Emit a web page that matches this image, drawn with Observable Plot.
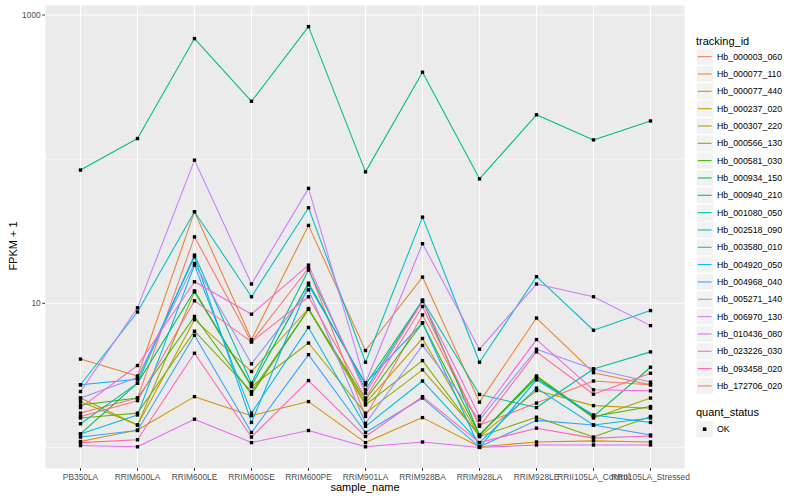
<!DOCTYPE html>
<html>
<head>
<meta charset="utf-8">
<script src="https://cdn.jsdelivr.net/npm/d3@7"></script>
<script src="https://cdn.jsdelivr.net/npm/@observablehq/plot@0.6"></script>
<style>
  body { margin: 0; background: #fff; font-family: "Liberation Sans", Arial, Helvetica, sans-serif; }
  #wrap { position: relative; width: 800px; height: 500px; overflow: hidden; }
  #plot { position: absolute; left: 0; top: 0; }
  .lab { position: absolute; color: #000; font-size: 11px; white-space: nowrap; }
  #legend { position: absolute; left: 690px; top: 0; }
</style>
</head>
<body>
<div id="wrap">
  <div id="plot"></div>
  <div class="lab" style="left:0px; top:238px; width:30px; transform: rotate(-90deg); transform-origin: 15px 8px; text-align:center;"><span style="display:inline-block; width:60px; margin-left:-15px;">FPKM + 1</span></div>
  <div class="lab" style="left:315px; top:481px; width:100px; text-align:center;">sample_name</div>
  <svg id="legend" width="110" height="500"></svg>
</div>
<script>
const samples = ["PB350LA","RRIM600LA","RRIM600LE","RRIM600SE","RRIM600PE","RRIM901LA","RRIM928BA","RRIM928LA","RRIM928LE","RRII105LA_Control","RRII105LA_Stressed"];

const trackingIds = ["Hb_000003_060","Hb_000077_110","Hb_000077_440","Hb_000237_020","Hb_000307_220","Hb_000566_130","Hb_000581_030","Hb_000934_150","Hb_000940_210","Hb_001080_050","Hb_002518_090","Hb_003580_010","Hb_004920_050","Hb_004968_040","Hb_005271_140","Hb_006970_130","Hb_010436_080","Hb_023226_030","Hb_093458_020","Hb_172706_020"];

const trackColors = ["#F8766D","#EA8331","#D89000","#C09B00","#A3A500","#7CAE00","#39B600","#00BB4E","#00BF7D","#00C1A3","#00BFC4","#00BAE0","#00B0F6","#35A2FF","#9590FF","#C77CFF","#E76BF3","#FA62DB","#FF62BC","#FF6C91"];

const quantStatus = ["OK"];

// FPKM + 1 per sample (same order as samples)
const Hb_000003_060 = [1.73, 2.20, 28.9, 5.4, 17.5, 1.64, 8.3, 1.43, 2.03, 2.89, 2.72];
const Hb_000077_110 = [4.1, 3.13, 43.2, 5.6, 34.7, 4.7, 15.2, 2.06, 7.9, 3.3, 2.72];
const Hb_000077_440 = [1.10, 1.32, 2.25, 1.66, 2.08, 1.08, 1.61, 1.01, 1.09, 1.11, 1.09];
const Hb_000237_020 = [2.20, 1.43, 7.7, 3.36, 9.2, 2.03, 5.7, 1.19, 2.48, 1.95, 1.87];
const Hb_000307_220 = [2.08, 1.43, 12.0, 2.64, 5.3, 1.73, 3.45, 1.22, 3.1, 1.60, 2.20];
const Hb_000566_130 = [1.60, 1.73, 6.4, 2.44, 9.1, 1.97, 4.0, 1.19, 1.62, 1.18, 1.64];
const Hb_000581_030 = [1.97, 2.20, 8.1, 2.34, 9.1, 2.14, 7.3, 1.22, 3.13, 1.64, 1.92];
const Hb_000934_150 = [1.24, 2.79, 12.2, 2.67, 13.8, 2.72, 10.5, 1.22, 3.02, 1.64, 3.6];
const Hb_000940_210 = [84, 139, 686, 252, 831, 81.6, 401, 73, 203, 136, 184];
const Hb_001080_050 = [1.46, 2.79, 21.6, 2.79, 17.0, 2.51, 10.5, 2.33, 1.89, 3.5, 4.6];
const Hb_002518_090 = [2.72, 8.7, 43.2, 11.1, 46.0, 3.9, 39.6, 3.9, 15.3, 6.5, 8.9];
const Hb_003580_010 = [1.24, 1.68, 18.4, 1.73, 6.8, 1.40, 2.89, 1.08, 2.58, 1.43, 1.60];
const Hb_004920_050 = [2.72, 2.97, 21.0, 1.49, 13.4, 2.79, 7.3, 1.00, 2.94, 1.68, 1.49];
const Hb_004968_040 = [1.18, 1.31, 6.0, 1.27, 4.4, 1.27, 2.20, 1.01, 1.54, 1.43, 1.22];
const Hb_005271_140 = [2.20, 3.05, 18.9, 3.8, 12.4, 1.47, 5.1, 1.55, 4.8, 3.5, 2.84];
const Hb_006970_130 = [2.44, 9.3, 98.4, 13.6, 62.7, 2.80, 25.9, 4.8, 13.6, 11.1, 7.0];
const Hb_010436_080 = [1.03, 1.01, 1.57, 1.08, 1.31, 1.01, 1.09, 1.00, 1.04, 1.04, 1.04];
const Hb_023226_030 = [1.89, 3.7, 14.1, 8.4, 18.4, 2.38, 10.3, 1.64, 5.6, 2.51, 2.47];
const Hb_093458_020 = [1.08, 1.13, 4.5, 1.18, 2.91, 1.19, 2.25, 1.08, 1.36, 1.16, 1.20];
const Hb_172706_020 = [1.64, 2.11, 10.4, 5.4, 11.1, 2.20, 9.5, 1.40, 4.6, 2.34, 3.27];

const seriesValues = [Hb_000003_060, Hb_000077_110, Hb_000077_440, Hb_000237_020, Hb_000307_220, Hb_000566_130, Hb_000581_030, Hb_000934_150, Hb_000940_210, Hb_001080_050, Hb_002518_090, Hb_003580_010, Hb_004920_050, Hb_004968_040, Hb_005271_140, Hb_006970_130, Hb_010436_080, Hb_023226_030, Hb_093458_020, Hb_172706_020];

const yMajor = [10, 1000];
const yMinor = [1, 100];

const rows = [];
trackingIds.forEach((id, i) => {
  seriesValues[i].forEach((v, j) => rows.push({id, sample: samples[j], value: v, status: quantStatus[0]}));
});

const chart = Plot.plot({
  width: 700,
  height: 500,
  marginLeft: 45,
  marginRight: 16,
  marginTop: 5,
  marginBottom: 32,
  style: {fontFamily: "'Liberation Sans', Arial, Helvetica, sans-serif", fontSize: "8.4px", color: "#4D4D4D", background: "transparent"},
  x: {type: "point", domain: samples, padding: 0.6, label: null},
  y: {type: "log", domain: [0.714, 1164], label: null},
  color: {domain: trackingIds, range: trackColors},
  marks: [
    Plot.frame({fill: "#EBEBEB", stroke: null}),
    Plot.ruleY(yMinor, {stroke: "#fff", strokeWidth: 0.55}),
    Plot.ruleY(yMajor, {stroke: "#fff", strokeWidth: 1.1}),
    Plot.ruleX(samples, {stroke: "#fff", strokeWidth: 1.1}),
    Plot.axisY({ticks: yMajor, tickFormat: d => String(d), tickSize: 2.75, tickPadding: 2, label: null, stroke: "#333"}),
    Plot.axisX({tickSize: 2.75, tickPadding: 3, label: null, stroke: "#333"}),
    Plot.line(rows, {x: "sample", y: "value", z: "id", stroke: "id", strokeWidth: 1.07}),
    Plot.dot(rows, {x: "sample", y: "value", symbol: "square", r: 1.9, fill: "#000", stroke: null})
  ]
});
document.getElementById("plot").appendChild(chart);

// legend (SVG)
const lg = d3.select("#legend");
const font = "'Liberation Sans', Arial, Helvetica, sans-serif";
lg.append("text").attr("x", 6).attr("y", 44.5).attr("font-family", font).attr("font-size", 11).attr("fill", "#000").text("tracking_id");
const rowH = 17.33, y0 = 48;
trackingIds.forEach((id, i) => {
  const top = y0 + i * rowH;
  lg.append("rect").attr("x", 6).attr("y", top).attr("width", 17.3).attr("height", rowH)
    .attr("fill", "#F2F2F2").attr("stroke", "#fff").attr("stroke-width", 1);
  lg.append("line").attr("x1", 7.7).attr("x2", 21.6).attr("y1", top + rowH / 2).attr("y2", top + rowH / 2)
    .attr("stroke", trackColors[i]).attr("stroke-width", 1.07);
  lg.append("text").attr("x", 27).attr("y", top + rowH / 2 + 3).attr("font-family", font).attr("font-size", 8.8).attr("fill", "#000").text(id);
});
lg.append("text").attr("x", 6).attr("y", 415.5).attr("font-family", font).attr("font-size", 11).attr("fill", "#000").text("quant_status");
{
  const top = 420.5;
  lg.append("rect").attr("x", 6).attr("y", top).attr("width", 17.3).attr("height", rowH)
    .attr("fill", "#F2F2F2").attr("stroke", "#fff").attr("stroke-width", 1);
  lg.append("rect").attr("x", 6 + 17.3 / 2 - 1.8).attr("y", top + rowH / 2 - 1.8).attr("width", 3.6).attr("height", 3.6).attr("fill", "#000");
  lg.append("text").attr("x", 27).attr("y", top + rowH / 2 + 3).attr("font-family", font).attr("font-size", 8.8).attr("fill", "#000").text(quantStatus[0]);
}
</script>
</body>
</html>
